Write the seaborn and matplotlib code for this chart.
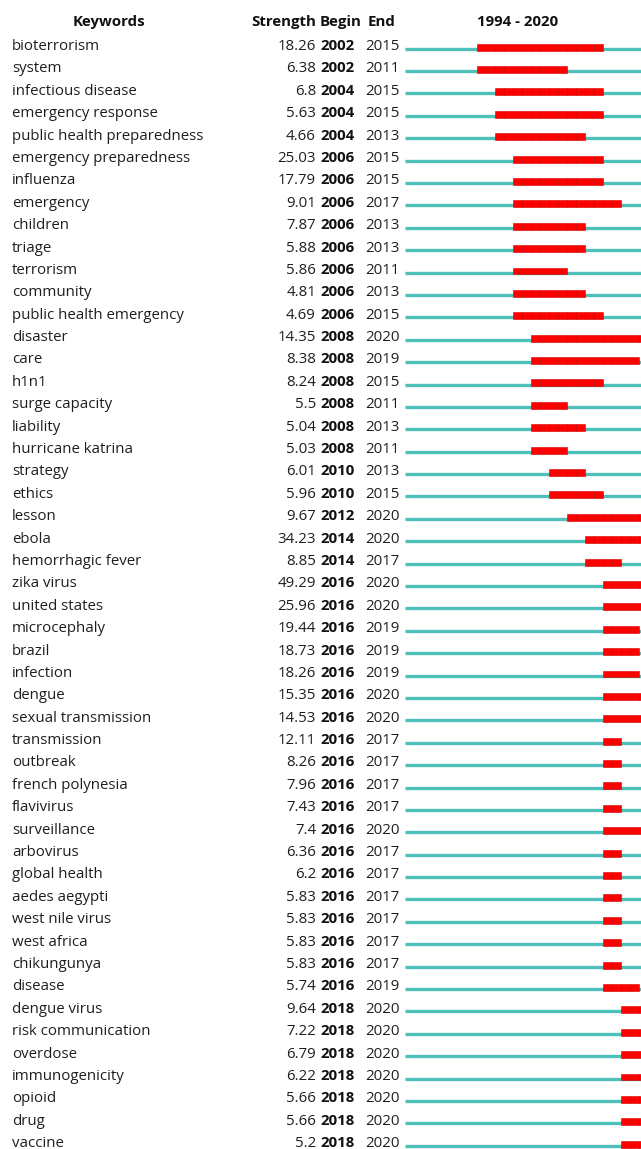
import seaborn as sns
import matplotlib.pyplot as plt

keywords = ["bioterrorism", "system", "infectious disease", "emergency response",
            "public health preparedness", "emergency preparedness", "influenza", "emergency",
            "children", "triage", "terrorism", "community", "public health emergency",
            "disaster", "care", "h1n1", "surge capacity", "liability", "hurricane katrina",
            "strategy", "ethics", "lesson", "ebola", "hemorrhagic fever", "zika virus",
            "united states", "microcephaly", "brazil", "infection", "dengue",
            "sexual transmission", "transmission", "outbreak", "french polynesia",
            "flavivirus", "surveillance", "arbovirus", "global health", "aedes aegypti",
            "west nile virus", "west africa", "chikungunya", "disease", "dengue virus",
            "risk communication", "overdose", "immunogenicity", "opioid", "drug", "vaccine"]
strength = ["18.26", "6.38", "6.8", "5.63", "4.66", "25.03", "17.79", "9.01", "7.87", "5.88",
            "5.86", "4.81", "4.69", "14.35", "8.38", "8.24", "5.5", "5.04", "5.03", "6.01",
            "5.96", "9.67", "34.23", "8.85", "49.29", "25.96", "19.44", "18.73", "18.26",
            "15.35", "14.53", "12.11", "8.26", "7.96", "7.43", "7.4", "6.36", "6.2", "5.83",
            "5.83", "5.83", "5.83", "5.74", "9.64", "7.22", "6.79", "6.22", "5.66", "5.66", "5.2"]
begin = [2002, 2002, 2004, 2004, 2004, 2006, 2006, 2006, 2006, 2006, 2006, 2006, 2006,
         2008, 2008, 2008, 2008, 2008, 2008, 2010, 2010, 2012, 2014, 2014, 2016, 2016,
         2016, 2016, 2016, 2016, 2016, 2016, 2016, 2016, 2016, 2016, 2016, 2016, 2016,
         2016, 2016, 2016, 2016, 2018, 2018, 2018, 2018, 2018, 2018, 2018]
end = [2015, 2011, 2015, 2015, 2013, 2015, 2015, 2017, 2013, 2013, 2011, 2013, 2015,
       2020, 2019, 2015, 2011, 2013, 2011, 2013, 2015, 2020, 2020, 2017, 2020, 2020,
       2019, 2019, 2019, 2020, 2020, 2017, 2017, 2017, 2017, 2020, 2017, 2017, 2017,
       2017, 2017, 2017, 2019, 2020, 2020, 2020, 2020, 2020, 2020, 2020]
first_year, last_year = 1994, 2020

sns.set_theme(style="white")
plt.rcParams['font.family'] = ['Open Sans', 'DejaVu Sans']

W, H = 641, 1149
fig = plt.figure(figsize=(W / 100, H / 100), dpi=100)
row_px = 22.39
y_top = -50 / row_px
y_bot = (H - 50) / row_px

# text area spans the whole figure, x in pixels
ax_txt = fig.add_axes([0, 0, 1, 1])
ax_txt.set_xlim(0, W)
ax_txt.set_ylim(y_bot, y_top)
ax_txt.axis("off")

# timeline area, x in years (9 px per year, cut at the right edge)
x0 = 405
ax = fig.add_axes([x0 / W, 0, (W - x0) / W, 1])
ax.set_xlim(first_year, first_year + (W - x0) / 9)
ax.set_ylim(y_bot, y_top)
ax.axis("off")

txt_color = "#1e1e1e"
fs = 10.8
for i, kw in enumerate(keywords):
    ax_txt.text(12, i, kw, ha="left", va="baseline", fontsize=fs, color=txt_color)
    ax_txt.text(316, i, strength[i], ha="right", va="baseline", fontsize=fs, color=txt_color)
    ax_txt.text(320, i, str(begin[i]), ha="left", va="baseline", fontsize=fs,
                fontweight="bold", color="#111111")
    ax_txt.text(400, i, str(end[i]), ha="right", va="baseline", fontsize=fs, color=txt_color)

hy = -1.05
hdr = dict(va="baseline", fontsize=fs, fontweight="bold", color="#111111")
ax_txt.text(109, hy, "Keywords", ha="center", **hdr)
ax_txt.text(316, hy, "Strength", ha="right", **hdr)
ax_txt.text(320, hy, "Begin", ha="left", **hdr)
ax_txt.text(368, hy, "End", ha="left", **hdr)
ax_txt.text(518, hy, f"{first_year} - {last_year}", ha="center", **hdr)

teal = "#4fbfb9"
red = "#ff0000"
rows = list(range(len(keywords)))
ax.hlines([r - 0.06 for r in rows], first_year, last_year + 1, color=teal, lw=2.4, zorder=2)
for i in rows:
    years = list(range(begin[i], end[i] + 1))
    ax.barh([i - 0.13] * len(years), [1] * len(years), left=years, height=0.31,
            color=red, edgecolor="#d80000", linewidth=0.4, zorder=3)

fig.savefig("out.png", dpi=100)
